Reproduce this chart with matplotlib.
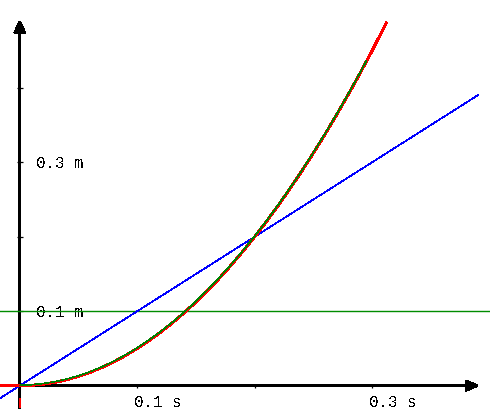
import matplotlib
matplotlib.use('Agg')
import matplotlib.pyplot as plt

plt.rcParams['font.family'] = ['Liberation Mono', 'DejaVu Sans Mono']
plt.rcParams['lines.antialiased'] = False
plt.rcParams['text.antialiased'] = False
plt.rcParams['patch.antialiased'] = False

# red curve: position (s, m)
red_t = [-0.017, 0.0, 0.01, 0.02, 0.03, 0.04, 0.05, 0.06, 0.07, 0.08, 0.09, 0.10,
         0.11, 0.12, 0.13, 0.14, 0.15, 0.16, 0.17, 0.18, 0.19, 0.20, 0.21,
         0.22, 0.23, 0.24, 0.25, 0.26, 0.27, 0.28, 0.29, 0.30, 0.312]
red_y = [0.0, 0.0, 0.0005, 0.002, 0.0045, 0.008, 0.0125, 0.018, 0.0245, 0.032, 0.0405, 0.05,
         0.0605, 0.072, 0.0845, 0.098, 0.1125, 0.128, 0.1445, 0.162, 0.1805, 0.2, 0.2205,
         0.242, 0.2645, 0.288, 0.3125, 0.338, 0.3645, 0.392, 0.4205, 0.45, 0.487]

# green curve (drawn over the red one, a hair higher, stops earlier)
green_t = [0.0, 0.01, 0.02, 0.03, 0.04, 0.05, 0.06, 0.07, 0.08, 0.09, 0.10,
           0.11, 0.12, 0.13, 0.14, 0.15, 0.16, 0.17, 0.18, 0.19, 0.20, 0.21,
           0.22, 0.23, 0.24, 0.25, 0.26, 0.27, 0.28, 0.29, 0.295]
green_y = [0.0005, 0.0013, 0.0029, 0.0054, 0.0089, 0.0134, 0.0189, 0.0254, 0.0329, 0.0414, 0.0509,
           0.0614, 0.0729, 0.0854, 0.0989, 0.1134, 0.1289, 0.1454, 0.1629, 0.1814, 0.2009, 0.2214,
           0.2429, 0.2654, 0.2889, 0.3134, 0.3389, 0.3654, 0.3929, 0.4214, 0.436]

# blue straight line and green level line
blue_t = [-0.017, 0.39]
blue_y = [-0.017, 0.39]
level_t = [-0.017, 0.40]
level_y = [0.1, 0.1]

red_tick_y = [-0.018, -0.029]

x_ticks = [0.1, 0.2, 0.3]
x_labels = {0.1: '0.1 s', 0.3: '0.3 s'}
y_ticks = [0.1, 0.2, 0.3, 0.4]
y_labels = {0.1: '0.1 m', 0.3: '0.3 m'}

fig = plt.figure(figsize=(4.9, 4.1), dpi=100)
ax = fig.add_axes([0, 0, 1, 1])
ax.set_xlim(-0.01685, 0.4002)
ax.set_ylim(-0.0313, 0.519)
ax.axis('off')

# axes with arrows
ax.annotate('', xy=(0.3911, 0), xytext=(-0.017, 0),
            arrowprops=dict(arrowstyle='-|>,head_length=0.75,head_width=0.32',
                            color='black', lw=1.44, shrinkA=0, shrinkB=0))
ax.annotate('', xy=(0, 0.491), xytext=(0, -0.032),
            arrowprops=dict(arrowstyle='-|>,head_length=0.75,head_width=0.35',
                            color='black', lw=1.44, shrinkA=0, shrinkB=0))

ax.plot(x_ticks, [0] * len(x_ticks), ls='none', marker='|', ms=3.5, mew=0.9,
        color='black', antialiased=True)
ax.plot([0] * len(y_ticks), y_ticks, ls='none', marker='_', ms=4.5, mew=0.9,
        color='black', antialiased=True)

for t, lab in x_labels.items():
    ax.annotate(lab, xy=(t, 0), xytext=(-3, -8), textcoords='offset pixels',
                ha='left', va='top', fontsize=11.3)
for v, lab in y_labels.items():
    ax.annotate(lab, xy=(0, v), xytext=(16, 0), textcoords='offset pixels',
                ha='left', va='center', fontsize=11.3)

ax.plot(level_t, level_y, color='#008c00', lw=1.0, zorder=3, antialiased=True)
ax.plot(blue_t, blue_y, color='#0000ff', lw=0.5, zorder=3)
ax.plot(red_t, red_y, color='#ff0000', lw=1.44, zorder=4)
ax.plot(green_t, green_y, color='#008000', lw=0.4, zorder=5)
ax.plot([0, 0], red_tick_y, color='#ff0000', lw=1.44, zorder=4)

plt.savefig('out.png', dpi=100)
